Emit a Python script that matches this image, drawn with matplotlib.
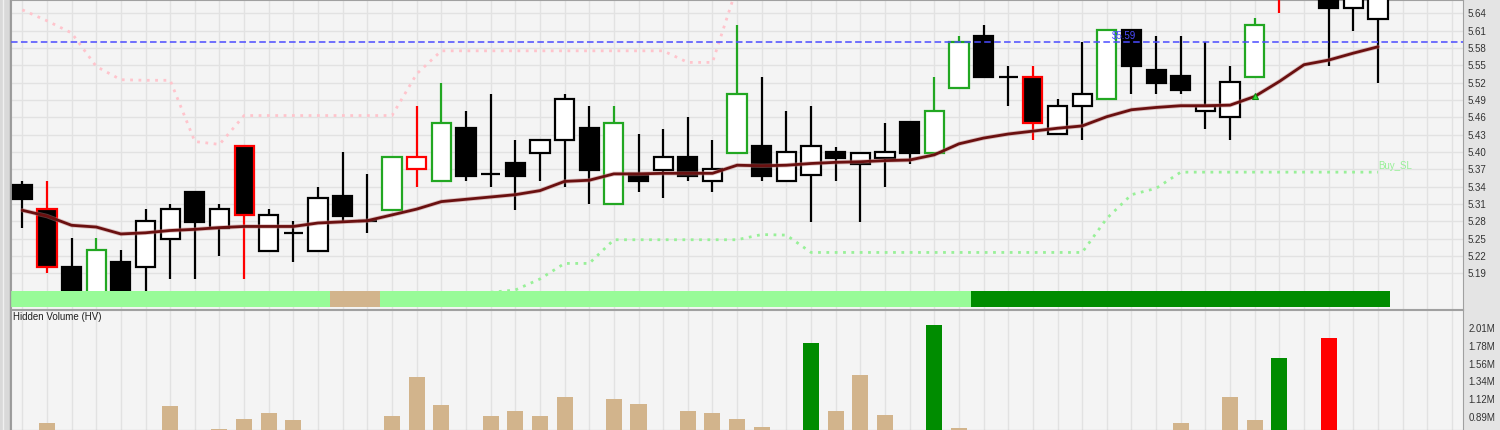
import matplotlib
matplotlib.use('Agg')
import matplotlib.pyplot as plt
from matplotlib.lines import Line2D
from matplotlib.patches import Rectangle
import numpy as np

plt.rcParams['font.family'] = ['Liberation Sans', 'DejaVu Sans']

# ---------------- data ----------------
opens = [5.342, 5.301, 5.201, 5.150, 5.210, 5.200, 5.249, 5.331, 5.269, 5.410,
         5.229, 5.260, 5.229, 5.323, 5.280, 5.299, 5.370, 5.349, 5.441, 5.361,
         5.380, 5.399, 5.421, 5.441, 5.309, 5.362, 5.369, 5.392, 5.349, 5.399,
         5.411, 5.349, 5.360, 5.400, 5.379, 5.390, 5.451, 5.399, 5.510, 5.601,
         5.530, 5.530, 5.431, 5.480, 5.491, 5.611, 5.541, 5.532, 5.470, 5.460,
         5.530, 5.700, 5.700, 5.690, 5.650, 5.630]
highs = [5.350, 5.350, 5.251, 5.251, 5.230, 5.301, 5.310, 5.332, 5.310, 5.411,
         5.301, 5.280, 5.340, 5.400, 5.362, 5.391, 5.480, 5.520, 5.471, 5.500,
         5.421, 5.421, 5.500, 5.480, 5.480, 5.431, 5.440, 5.461, 5.421, 5.620,
         5.530, 5.471, 5.480, 5.409, 5.400, 5.450, 5.451, 5.530, 5.601, 5.620,
         5.549, 5.549, 5.491, 5.590, 5.611, 5.611, 5.601, 5.601, 5.590, 5.549,
         5.631, 5.720, 5.720, 5.700, 5.690, 5.680]
lows = [5.269, 5.190, 5.140, 5.140, 5.140, 5.145, 5.180, 5.180, 5.220, 5.180,
        5.228, 5.209, 5.228, 5.279, 5.259, 5.299, 5.339, 5.348, 5.349, 5.339,
        5.299, 5.349, 5.339, 5.309, 5.309, 5.330, 5.320, 5.349, 5.330, 5.399,
        5.349, 5.349, 5.279, 5.349, 5.279, 5.339, 5.379, 5.399, 5.510, 5.529,
        5.480, 5.421, 5.431, 5.421, 5.491, 5.500, 5.500, 5.500, 5.439, 5.421,
        5.530, 5.641, 5.670, 5.549, 5.610, 5.520]
closes = [5.319, 5.200, 5.150, 5.231, 5.150, 5.280, 5.301, 5.278, 5.301, 5.290,
          5.291, 5.260, 5.321, 5.289, 5.280, 5.391, 5.391, 5.450, 5.359, 5.361,
          5.359, 5.421, 5.491, 5.369, 5.450, 5.349, 5.392, 5.359, 5.371, 5.500,
          5.359, 5.400, 5.411, 5.389, 5.399, 5.400, 5.399, 5.471, 5.590, 5.529,
          5.530, 5.450, 5.480, 5.500, 5.611, 5.549, 5.519, 5.508, 5.480, 5.521,
          5.620, 5.680, 5.680, 5.649, 5.680, 5.675]
# candle outline / wick colour code: k = normal, r = red signal, g = green signal
candle_mark = list("krkgkkkkkr" "kkkkkgrgkk" "kkkkgkkkkg" "kkkkkkkggk"
                   "krkkgkkkkk" "grkkkk")
ma20 = [5.299, 5.289, 5.273, 5.270, 5.258, 5.260, 5.264, 5.266, 5.269, 5.271,
        5.271, 5.271, 5.277, 5.279, 5.281, 5.291, 5.301, 5.314, 5.318, 5.322,
        5.326, 5.333, 5.349, 5.351, 5.362, 5.362, 5.363, 5.363, 5.363, 5.377,
        5.376, 5.377, 5.380, 5.382, 5.383, 5.385, 5.386, 5.395, 5.414, 5.424,
        5.431, 5.436, 5.441, 5.445, 5.461, 5.473, 5.477, 5.480, 5.480, 5.481,
        5.496, 5.522, 5.551, 5.559, 5.571, 5.582]
nan = float('nan')
sell_sl = ([5.646, 5.627, 5.606, 5.548, 5.525, 5.524, 5.524, 5.418, 5.413]
           + [5.463] * 7 + [5.535] + [5.575] * 10 + [5.555, 5.555, 5.686]
           + [nan] * 26)
buy_sl = ([nan] * 19 + [5.157, 5.161, 5.180, 5.207, 5.207] + [5.248] * 6
          + [5.257, 5.256] + [5.226] * 12 + [5.285, 5.326, 5.337] + [5.365] * 9)
band_state = list("L" * 13 + "T" * 2 + "L" * 24 + "D" * 17)
volume_m = [0.55, 0.806, 0.62, 0.45, 0.58, 0.66, 1.026, 0.52, 0.733, 0.861,
            0.933, 0.848, 0.60, 0.48, 0.65, 0.899, 1.391, 1.039, 0.57, 0.899,
            0.966, 0.899, 1.144, 0.69, 1.119, 1.052, 0.63, 0.966, 0.933, 0.861,
            0.755, 0.60, 1.824, 0.966, 1.420, 0.912, 0.68, 2.057, 0.746, 0.55,
            0.64, 0.70, 0.47, 0.58, 0.66, 0.52, 0.61, 0.814, 0.69, 1.144,
            0.848, 1.633, 0.60, 1.887, 0.57, 0.50]
vol_mark = ["t"] * 56
for i in (32, 37, 51):
    vol_mark[i] = "g"
vol_mark[53] = "r"
price_ticks = [5.19, 5.22, 5.25, 5.28, 5.31, 5.34, 5.37, 5.40, 5.43, 5.46,
               5.49, 5.52, 5.55, 5.58, 5.61, 5.64]
vol_ticks = [0.89, 1.12, 1.34, 1.56, 1.78, 2.01]
target_price = 5.59
signal_idx = [50]
signal_price = [5.497]

# ---------------- figure ----------------
W, H = 1500, 430
fig = plt.figure(figsize=(W / 100, H / 100), dpi=100, facecolor='#e4e4e4')
L_px, R_px = 11, 1463
ax = fig.add_axes([L_px / W, (H - 309) / H, (R_px - L_px) / W, 309 / H])
axv = fig.add_axes([L_px / W, 0, (R_px - L_px) / W, (H - 310) / H])

# left frame strip
fig.add_artist(Rectangle((0, 0), 10 / W, 1, transform=fig.transFigure,
                         facecolor='#d9d9d9', edgecolor='none'))
fig.add_artist(Line2D([3 / W, 3 / W], [0, 1], transform=fig.transFigure,
                      color='#f0f0f0', lw=1))
fig.add_artist(Line2D([10 / W, 10 / W], [0, 1], transform=fig.transFigure,
                      color='#9a9a9a', lw=1))

x = np.arange(len(opens))
n_slots = 59
xlim = (-0.458, 58.45)

for a in (ax, axv):
    a.set_facecolor('#f4f4f4')
    a.set_xlim(*xlim)
    a.set_xticks(np.arange(n_slots))
    a.tick_params(axis='x', length=0, labelbottom=False)
    a.grid(axis='x', color='#e2e2e2', lw=1)
    for s in a.spines.values():
        s.set_color('#a0a0a0')
    a.set_axisbelow(True)

# ---------- price panel ----------
ax.set_ylim(5.1281, 5.663)
ax.set_yticks(price_ticks)
ax.set_yticklabels([f"{v:.2f}" for v in price_ticks])
ax.yaxis.tick_right()
ax.tick_params(axis='y', length=0, pad=3, labelsize=7, labelcolor='#333333')
ax.grid(axis='y', color='#e2e2e2', lw=1)

edge_map = {'k': 'black', 'r': '#ff0000', 'g': '#22a722'}
ecs = [edge_map[m] for m in candle_mark]
fills = ['black' if c < o else 'white' for o, c in zip(opens, closes)]
bottoms = [min(o, c) for o, c in zip(opens, closes)]
heights = [max(abs(c - o), 0.0003) for o, c in zip(opens, closes)]

ax.plot(x, sell_sl, color='#ffc4cc', lw=2, linestyle=(0, (1, 2)), zorder=2)
ax.plot(x, buy_sl, color='#98f098', lw=2, linestyle=(0, (1, 2)), zorder=2)
ax.vlines(x, lows, highs, colors=ecs, lw=1.6, zorder=3)
ax.bar(x, heights, bottom=bottoms, width=0.78, color=fills, edgecolor=ecs,
       linewidth=1.6, zorder=4)
ax.plot(x, ma20, color='#c08080', lw=3.2, alpha=0.45, zorder=5,
        solid_capstyle='round')
ax.plot(x, ma20, color='#6a1010', lw=2.0, zorder=5, solid_capstyle='round')
ax.axhline(target_price, color='#4b4bff', lw=1.1, linestyle=(0, (4.3, 2.2)),
           zorder=6)
ax.text(44.2, target_price + 0.002, f"${target_price:.2f}", color='#4b4bff',
        fontsize=7, ha='left', va='bottom', zorder=7)
ax.text(55.0, 5.367, "Buy_SL", color='#98f098', fontsize=7, ha='left',
        va='bottom', zorder=7)
ax.plot(signal_idx, signal_price, marker='^', ls='none', ms=5,
        color='#33dd33', mec='#118811', mew=0.8, zorder=7)

band_colors = {'L': '#98fb98', 'T': '#d2b48c', 'D': '#008c00'}
ax.bar(x, [0.052] * len(x), bottom=0.0065, width=1.0,
       color=[band_colors[b] for b in band_state], edgecolor='none',
       transform=ax.get_xaxis_transform(), zorder=8)
ax.set_ylim(5.1281, 5.663)

# ---------- volume panel ----------
vol_color_map = {'t': '#d2b48c', 'g': '#008c00', 'r': '#ff0000'}
axv.bar(x, volume_m, width=0.65,
        color=[vol_color_map[m] for m in vol_mark], edgecolor='none', zorder=3)
axv.set_ylim(0.7214, 2.242)
axv.set_yticks(vol_ticks)
axv.set_yticklabels([f"{v:.2f}M" for v in vol_ticks])
axv.yaxis.tick_right()
axv.tick_params(axis='y', length=0, pad=4, labelsize=7, labelcolor='#333333')
axv.text(0.0015, 0.945, "Hidden Volume (HV)", transform=axv.transAxes,
         fontsize=7, color='#202020', ha='left', va='center')

fig.savefig('out.png', dpi=100, facecolor=fig.get_facecolor())
